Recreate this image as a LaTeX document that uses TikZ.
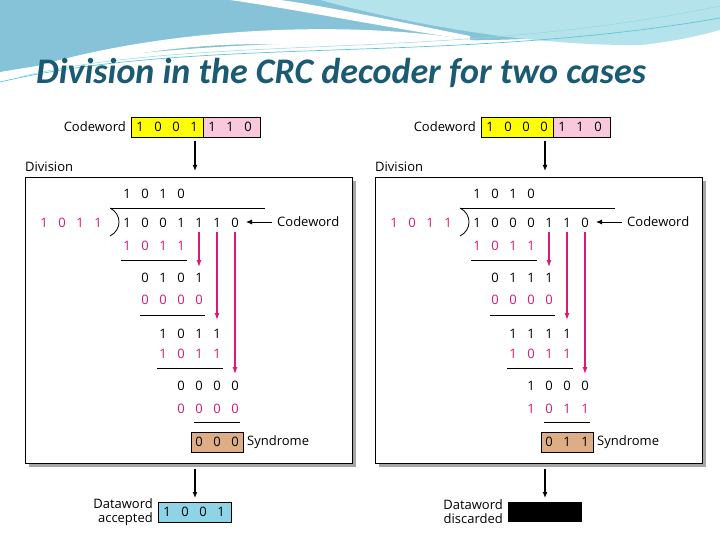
\documentclass[tikz,border=0pt]{standalone}
\usepackage{fontspec}
\setmainfont{Open Sans}
\newfontfamily\titlefont{Carlito}
\usetikzlibrary{arrows.meta}
\definecolor{pinkd}{HTML}{D6197A}
\definecolor{ylw}{HTML}{FFFF00}
\definecolor{pnk}{HTML}{F9C8DC}
\definecolor{tan}{HTML}{DDAE85}
\definecolor{cyn}{HTML}{8FD3E6}
\definecolor{ttl}{HTML}{1A5A72}
\definecolor{bgA}{HTML}{86C2D8}
\definecolor{bgB}{HTML}{B5E3EC}
\definecolor{bgC}{HTML}{5FC7D6}
\tikzset{
 dg/.style={font=\fontsize{13}{13}\selectfont,inner sep=0pt,anchor=base},
 pd/.style={dg,text=pinkd},
 lbl/.style={font=\fontsize{13}{14}\selectfont,inner sep=0pt},
 blk/.style={-{Latex[length=6pt,width=5pt]},line width=1.3pt},
 parr/.style={-{Latex[length=7pt,width=5pt]},line width=1.2pt,draw=pinkd},
 rule/.style={line width=0.8pt},
 cell/.style={draw,line width=0.6pt}
}
\newcommand{\digs}[4]{% y, startx, style, digits
 \edef\mydiglist{#4}%
 \foreach \d [count=\i from 0] in \mydiglist {\node[#3] at ({#2+18*\i},#1) {\d};}}
\begin{document}
\begin{tikzpicture}[x=1pt,y=-1pt]
\useasboundingbox (0,0) rectangle (720,540);
\fill[bgA] (0,0) -- (720,0) -- (720,20) .. controls (500,60) and (300,20) .. (0,72) -- cycle;
\fill[bgB] (320,0) -- (720,0) -- (720,5) -- (720,40) .. controls (600,55) and (450,35) .. (320,0);
\fill[white] (0,78) .. controls (150,25) and (350,20) .. (470,40) .. controls (560,55) and (650,50) .. (720,30) -- (720,45) .. controls (600,60) and (450,60) .. (300,45) .. controls (200,40) and (100,55) .. (0,85) -- cycle;
\fill[white] (230,0) .. controls (300,10) and (400,30) .. (470,40) -- (470,36) .. controls (400,22) and (320,5) .. (280,0) -- cycle;
\draw[bgC,line width=0.7pt] (0,82) .. controls (200,35) and (450,65) .. (720,18);
\draw[bgC!70,line width=0.5pt] (20,77) .. controls (200,33) and (450,62) .. (720,6);
\node[anchor=base west,inner sep=0pt,text=ttl,font=\titlefont\bfseries\itshape\fontsize{36}{36}\selectfont] (title) at (36,84) {Division in the CRC decoder for two cases};
\foreach \ox/\cw/\qa/\ra/\rb/\rc/\rd/\re/\rf/\syn/\side in {%
 0/{1,0,0,1}/{1,0,1,0}/{0,1,0,1}/{0,0,0,0}/{1,0,1,1}/{1,0,1,1}/{0,0,0,0}/{0,0,0,0}/{0,0,0}/L,
 350/{1,0,0,0}/{1,0,1,0}/{0,1,1,1}/{0,0,0,0}/{1,1,1,1}/{1,0,1,1}/{1,0,0,0}/{1,0,1,1}/{0,1,1}/R} {
\begin{scope}[xshift=\ox]
 \fill[gray!70] (29,181) rectangle (356,467);
 \draw[fill=white,line width=0.6pt] (25,177) rectangle (352,463);
 \node[lbl,anchor=west] (div\side) at (25,167) {Division};
 \draw[cell,fill=ylw] (131,117) rectangle (203,137);
 \draw[cell,fill=pnk] (203,117) rectangle (260,137);
 \node[lbl,anchor=east] (cwl\side) at (126,127) {Codeword};
 \digs{131.5}{140}{dg}{\cw}
 \digs{131.5}{212}{dg}{1,1,0}
 \coordinate (a1\side) at (195,141); \coordinate (a2\side) at (195,171);
 \draw[blk] (a1\side) -- (a2\side);
 \digs{199}{127}{dg}{\qa}
 \draw[rule] (110,208) -- (265,208);
 \draw[line width=0.8pt] (110,208) .. controls (122,214) and (122,230) .. (110,236);
 \digs{227}{44}{pd}{1,0,1,1}
 \digs{227}{127}{dg}{\cw}
 \digs{227}{199}{dg}{1,1,0}
 \node[lbl,anchor=west] (cw2\side) at (277,222) {Codeword};
 \coordinate (c1\side) at (272,222); \coordinate (c2\side) at (246,222);
 \draw[-{Latex[length=6pt,width=5pt]},line width=0.9pt] (c1\side) -- (c2\side);
 \digs{250}{127}{pd}{1,0,1,1}
 \draw[rule] (121,260) -- (187,260);
 \digs{282}{145}{dg}{\ra}
 \digs{304}{145}{pd}{\rb}
 \draw[rule] (140,315) -- (205,315);
 \digs{338}{163}{dg}{\rc}
 \digs{358}{163}{pd}{\rd}
 \draw[rule] (157,368) -- (223,368);
 \digs{390}{181}{dg}{\re}
 \digs{413}{181}{pd}{\rf}
 \draw[rule] (194,422) -- (240,422);
 \draw[cell,fill=tan] (191,432) rectangle (243,452);
 \digs{446.5}{199}{dg}{\syn}
 \node[lbl,anchor=west] (syn\side) at (247,442) {Syndrome};
 \coordinate (p1\side) at (199,232); \coordinate (q1\side) at (199,267);
 \coordinate (p2\side) at (217,232); \coordinate (q2\side) at (217,320);
 \coordinate (p3\side) at (235,232); \coordinate (q3\side) at (235,374);
 \draw[parr] (p1\side) -- (q1\side);
 \draw[parr] (p2\side) -- (q2\side);
 \draw[parr] (p3\side) -- (q3\side);
 \coordinate (b1\side) at (195,469); \coordinate (b2\side) at (195,498);
 \draw[blk] (b1\side) -- (b2\side);
\end{scope}}
\node[lbl,align=right,anchor=east] (acc) at (153,512) {Dataword\\accepted};
\draw[cell,fill=cyn] (158,502) rectangle (231,522);
\digs{516.5}{167}{dg}{1,0,0,1}
\node[lbl,align=right,anchor=east] (disc) at (503,512) {Dataword\\discarded};
\fill[black] (508,502) rectangle (582,522);
\end{tikzpicture}
\end{document}
